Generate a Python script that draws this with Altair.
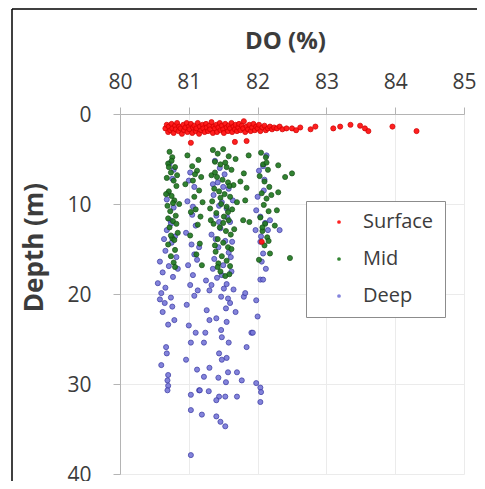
import altair as alt
import pandas as pd

series_names = ["Surface", "Mid", "Deep"]
fill_colors = ["#ff1414", "#217a21", "#7676d8"]
stroke_colors = ["#d00000", "#144d14", "#3434a0"]
opacities = [0.95, 0.9, 0.6]

x_ticks = [80, 81, 82, 83, 84, 85]
y_ticks = [0, 10, 20, 30, 40]

surface_do = [80.66, 80.68, 80.70, 80.71, 80.73, 80.75, 80.76, 80.78, 80.80, 80.81, 80.83, 80.85,
              80.86, 80.88, 80.90, 80.92, 80.93, 80.95, 80.97, 80.98, 81.00, 81.01, 81.03, 81.05,
              81.06, 81.08, 81.10, 81.11, 81.13, 81.15, 81.16, 81.18, 81.20, 81.21, 81.23, 81.25,
              81.26, 81.28, 81.30, 81.31, 81.33, 81.35, 81.36, 81.38, 81.40, 81.41, 81.43, 81.45,
              81.46, 81.48, 81.50, 81.51, 81.53, 81.55, 81.57, 81.58, 81.60, 81.62, 81.63, 81.65,
              81.67, 81.68, 81.70, 81.72, 81.73, 81.75, 81.77, 81.79, 81.80, 81.82, 81.84, 81.86,
              81.88, 81.90, 81.92, 81.94, 81.96, 81.98, 82.00, 82.02, 82.04, 82.07, 82.10, 82.12,
              82.15, 82.18, 82.21, 82.24, 82.28, 82.32, 82.36, 82.42, 82.50, 82.56, 82.62,
              82.77, 82.84, 83.10, 83.20, 83.35, 83.49, 83.56, 83.61, 83.96, 84.31,
              81.03, 81.67, 81.84, 82.06]
surface_depth = [1.6, 1.2, 2.0, 1.4, 1.8, 1.1, 1.6, 2.1, 1.3, 1.7, 1.0, 1.9,
                 1.4, 1.6, 2.2, 1.2, 1.8, 1.5, 1.0, 2.0, 1.4, 1.7, 1.1, 2.1,
                 1.5, 1.3, 1.9, 1.6, 1.0, 2.2, 1.4, 1.8, 1.2, 1.6, 2.0, 1.1,
                 1.5, 1.9, 1.3, 1.7, 0.9, 2.1, 1.4, 1.6, 1.2, 2.0, 1.5, 1.0,
                 1.8, 1.3, 1.7, 2.1, 1.1, 1.5, 1.9, 1.3, 1.6, 1.0, 2.0, 1.4,
                 1.7, 1.2, 1.9, 1.5, 1.1, 1.8, 1.3, 1.6, 0.8, 2.0, 1.4, 1.7,
                 1.2, 1.9, 1.5, 1.1, 1.8, 1.4, 1.6, 1.2, 1.9, 1.5, 1.3, 1.8,
                 1.6, 1.4, 1.7, 1.5, 1.6, 1.4, 1.7, 1.6, 1.6, 1.8, 1.5,
                 1.7, 1.4, 1.6, 1.4, 1.2, 1.3, 1.6, 1.9, 1.4, 1.9,
                 3.2, 3.1, 3.0, 14.2]

mid_do = [80.72, 80.76, 80.70, 80.80, 80.74, 80.68, 80.78, 80.82, 80.71, 80.75, 80.79, 80.69,
          80.73, 80.81, 80.77, 80.72, 80.84, 80.76, 80.70, 80.80, 80.74, 80.78, 80.83, 80.67,
          80.86, 80.75, 80.82, 80.79,
          80.98, 81.05, 81.12, 81.18, 80.95, 81.15, 81.08, 81.20, 81.10, 81.17, 81.13, 81.02,
          81.16, 81.11, 81.19, 81.06, 81.14,
          81.35, 81.42, 81.50, 81.58, 81.38, 81.46, 81.55, 81.62, 81.33, 81.41, 81.49, 81.57,
          81.65, 81.37, 81.44, 81.52, 81.60, 81.34, 81.47, 81.55, 81.63, 81.40, 81.51, 81.58,
          81.36, 81.45, 81.54, 81.61, 81.42, 81.50, 81.57, 81.39, 81.48, 81.55, 81.60, 81.46,
          81.53, 81.68, 81.70, 81.66, 81.31, 81.43, 81.59,
          81.80, 81.87, 81.84, 81.82, 81.79, 81.88, 81.75,
          82.05, 82.12, 82.08, 82.15, 82.03, 82.10, 82.17, 82.06, 82.13, 82.09, 82.16, 82.04,
          82.11, 82.07, 82.14, 82.10, 82.18, 82.02, 82.20,
          82.30, 82.40, 82.50, 82.30, 82.28, 82.47, 82.25,
          80.71, 80.77, 80.74, 80.80, 81.03, 81.09, 81.38, 81.53, 81.46, 81.57, 81.38, 81.62,
          81.50, 81.42, 82.13, 82.07, 82.16, 81.32, 81.59, 80.70]
mid_depth = [4.2, 4.8, 5.5, 5.9, 6.5, 7.1, 7.4, 8.0, 8.6, 9.1, 9.6, 10.2,
             10.8, 11.3, 11.9, 12.6, 13.2, 13.8, 14.5, 15.1, 15.8, 16.5, 6.8, 8.9,
             10.0, 5.2, 12.2, 14.0,
             4.6, 5.8, 6.3, 7.0, 7.8, 8.5, 9.2, 9.8, 10.6, 11.4, 12.3, 13.5,
             14.4, 15.6, 16.8, 7.4, 5.1,
             4.0, 4.4, 3.9, 4.7, 5.3, 5.6, 5.9, 6.2, 6.8, 7.0, 7.3, 7.6,
             7.9, 8.3, 8.6, 8.9, 9.2, 9.7, 10.0, 10.3, 10.6, 11.0, 11.4, 11.8,
             12.2, 12.6, 13.0, 13.4, 13.9, 14.3, 14.8, 15.3, 15.8, 16.3, 16.9, 17.5,
             18.0, 5.0, 9.8, 12.8, 10.5, 16.6, 17.8,
             6.6, 4.6, 8.2, 9.6, 11.8, 12.0, 7.5,
             4.3, 4.8, 5.6, 6.2, 6.9, 7.5, 8.1, 8.8, 9.4, 10.1, 10.8, 11.5,
             12.2, 13.0, 13.7, 14.6, 15.5, 16.2, 9.0,
             5.7, 7.0, 6.6, 8.7, 10.7, 16.0, 12.4,
             5.9, 9.9, 13.5, 17.0, 10.9, 6.7, 6.5, 5.4, 9.3, 10.9, 14.6, 15.0,
             12.1, 17.0, 5.4, 12.6, 14.1, 11.8, 8.0, 11.6]

deep_do = [80.72, 80.76, 80.70, 80.78, 80.73, 80.68, 80.80, 80.75, 80.66, 80.82, 80.58, 80.71,
           80.62, 80.77, 80.55, 80.66, 80.60, 80.74, 80.65, 80.76, 80.62, 80.79, 80.70, 80.67,
           80.68, 80.60, 80.70, 80.69, 80.70, 80.69, 80.58, 80.84,
           81.02, 81.08, 80.98, 81.05, 81.10, 80.96, 81.04, 81.08, 80.99, 81.06, 81.02, 81.08,
           80.97, 81.00, 81.10, 81.03, 81.22, 80.96, 81.12, 81.15, 81.03, 81.03, 81.19, 81.03,
           81.13, 81.15,
           81.38, 81.45, 81.52, 81.42, 81.58, 81.36, 81.48, 81.55, 81.40, 81.60, 81.46, 81.33,
           81.53, 81.43, 81.58, 81.37, 81.50, 81.62, 81.41, 81.55, 81.30, 81.47, 81.60, 81.26,
           81.54, 81.30, 81.40, 81.55, 81.47, 81.48, 81.24, 81.58, 81.44, 81.48, 81.55, 81.30,
           81.57, 81.70, 81.77, 81.22, 81.43, 81.54, 81.16, 81.29, 81.44, 81.40, 81.53, 81.70,
           81.40, 81.46, 81.53, 81.84, 81.91, 81.65, 81.68, 81.35, 81.63, 81.44, 81.51,
           82.13, 82.08, 82.10, 82.00, 81.98, 82.04, 82.18, 82.32, 81.97, 82.11, 82.15, 82.05,
           82.04, 82.08, 82.06, 82.04, 82.08, 81.98, 81.80, 81.82, 81.93, 81.98, 82.04, 82.05,
           82.04, 82.12, 82.00,
           80.78, 80.68, 80.74, 81.00, 81.06, 81.12, 81.35, 81.50, 81.56, 81.44, 81.39, 81.61,
           81.48, 81.57, 81.33, 81.64, 82.09, 82.02, 80.64, 81.25]
deep_depth = [5.5, 7.2, 8.8, 10.4, 11.8, 12.9, 13.6, 14.3, 15.2, 15.9, 16.4, 16.9,
              17.6, 18.1, 18.8, 19.3, 19.9, 20.4, 21.0, 21.4, 22.0, 22.9, 23.4, 25.9,
              26.6, 27.9, 29.0, 29.6, 30.2, 30.7, 20.6, 17.2,
              6.5, 8.1, 9.7, 11.2, 12.4, 13.2, 14.5, 15.6, 16.8, 17.9, 19.0, 20.2,
              21.2, 23.5, 24.3, 25.4, 25.4, 27.3, 28.4, 30.7, 31.2, 32.9, 33.4, 37.9,
              19.6, 14.8,
              5.2, 6.0, 6.7, 7.6, 8.3, 9.0, 9.8, 10.5, 11.3, 12.0, 12.7, 13.4,
              14.1, 14.8, 15.4, 16.1, 16.8, 17.5, 18.2, 18.9, 19.6, 20.3, 21.0, 21.8,
              21.6, 22.9, 22.7, 23.1, 24.0, 24.8, 24.3, 25.4, 26.6, 27.3, 27.1, 28.2,
              28.7, 28.7, 29.6, 29.2, 29.3, 29.8, 30.7, 30.8, 31.4, 31.8, 31.4, 31.4,
              33.6, 34.2, 34.7, 25.9, 24.3, 19.5, 22.0, 17.2, 14.2, 12.0, 19.4,
              4.6, 5.8, 7.3, 9.2, 10.7, 11.4, 11.8, 12.9, 12.9, 12.1, 12.9, 13.6,
              14.2, 15.5, 16.4, 18.4, 18.4, 20.7, 20.3, 19.9, 24.3, 29.9, 30.4, 30.9,
              32.0, 17.2, 22.5,
              6.2, 9.5, 12.2, 7.4, 10.3, 16.2, 7.8, 8.1, 11.5, 10.2, 13.9, 15.9,
              17.9, 20.5, 19.0, 9.6, 8.5, 6.3, 13.9, 18.5]

rows = []
for name, xs, ys in [("Deep", deep_do, deep_depth), ("Mid", mid_do, mid_depth),
                     ("Surface", surface_do, surface_depth)]:
    for a, b in zip(xs, ys):
        rows.append({"series": name, "do": a, "depth": b})
df = pd.DataFrame(rows)

text_color = "#3c3c3c"
font = "Open Sans"

points = alt.Chart(df).mark_point(filled=True, size=26, strokeWidth=0.8).encode(
    x=alt.X("do:Q", scale=alt.Scale(domain=[80, 85], nice=False, zero=False),
            axis=alt.Axis(orient="top", values=x_ticks, title="DO (%)",
                          titleX=165, titleY=-66, titleBaseline="alphabetic",
                          labelPadding=15, tickSize=7, labelFlush=False)),
    y=alt.Y("depth:Q", scale=alt.Scale(domain=[0, 40], reverse=True, nice=False),
            axis=alt.Axis(values=y_ticks, title="Depth (m)", titleX=-78, titleY=133,
                          titleBaseline="alphabetic", titleAngle=-90, titleFontSize=26,
                          labelPadding=22, tickSize=7, labelFlush=False,
                          labelBaseline="alphabetic", labelOffset=7)),
    color=alt.Color("series:N", scale=alt.Scale(domain=series_names, range=fill_colors),
                    legend=alt.Legend(title=None, orient="none", legendX=186, legendY=87,
                                      symbolSize=14, symbolOpacity=0.55, symbolStrokeWidth=0,
                                      symbolOffset=12, labelOffset=14, labelFontSize=20,
                                      labelColor=text_color, labelFont=font,
                                      padding=11, rowPadding=17, strokeColor="#8c8c8c",
                                      fillColor="white")),
    stroke=alt.Stroke("series:N", scale=alt.Scale(domain=series_names, range=stroke_colors),
                      legend=None),
    opacity=alt.Opacity("series:N", scale=alt.Scale(domain=series_names, range=opacities),
                        legend=None),
)

frame_df = pd.DataFrame({"k": [0]})
frame_left = alt.Chart(frame_df).mark_rule(color="black", strokeWidth=1.5).encode(
    x=alt.value(-108), y=alt.value(-105), y2=alt.value(380))
frame_top = alt.Chart(frame_df).mark_rule(color="black", strokeWidth=1.5).encode(
    x=alt.value(-108), x2=alt.value(370), y=alt.value(-105))

chart = alt.layer(points, frame_left, frame_top).properties(
    width=344, height=360,
    autosize=alt.AutoSizeParams(type="none"),
    padding={"left": 112, "top": 106, "right": 13, "bottom": 7},
).configure_view(stroke=None).configure_axis(
    labelFont=font, labelFontSize=21, labelColor=text_color,
    titleFont=font, titleFontSize=24, titleFontWeight="bold", titleColor=text_color,
    domainColor="#b4b4b4", tickColor="#b4b4b4", gridColor="#ebebeb", grid=True,
)

chart.save("out.html", embed_options={"renderer": "svg", "actions": False})
